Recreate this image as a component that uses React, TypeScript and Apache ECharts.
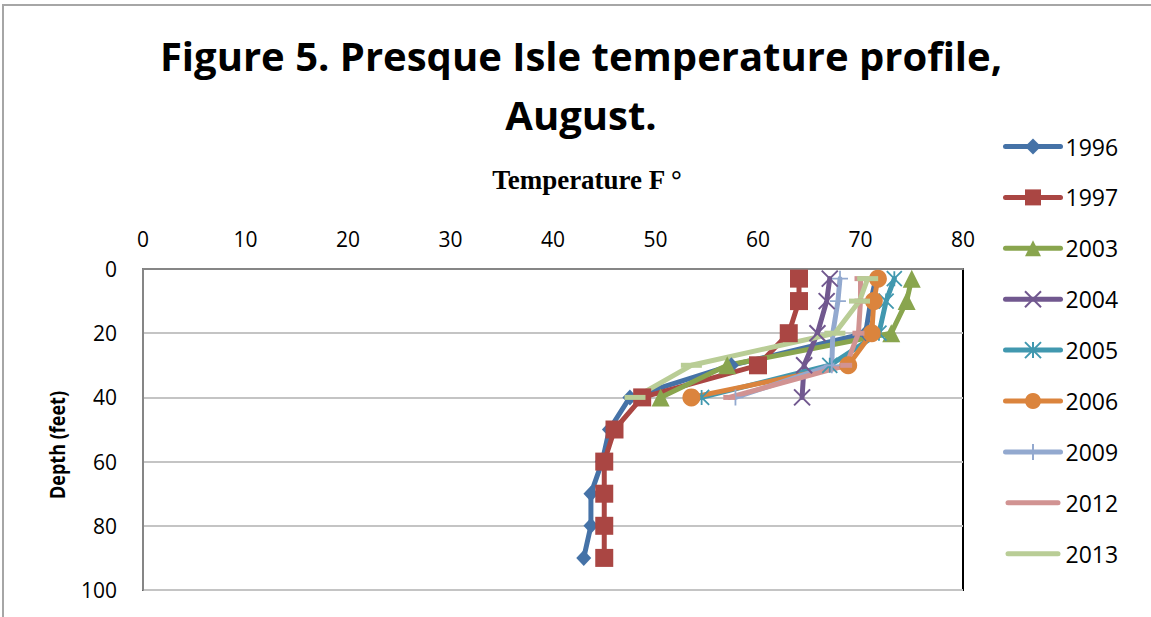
import React, { useEffect, useRef } from "react";
import * as echarts from "echarts";

// Depth (feet) of each measurement
const depthFeet = [3, 10, 20, 30, 40, 50, 60, 70, 80, 90];
const years = ["1996", "1997", "2003", "2004", "2005", "2006", "2009", "2012", "2013"];

// Temperature (F) at each depth, per year
const temp1996 = [71.5, 71, 70.5, 57.4, 47.5, 45.5, 44.8, 43.7, 43.7, 43];
const temp1997 = [64, 64, 63, 60, 48.7, 46, 45, 45, 45, 45];
const temp2003 = [75, 74.5, 73, 57, 50.5];
const temp2004 = [67, 66.7, 65.8, 64.5, 64.3];
const temp2005 = [73.3, 72.5, 71.8, 67, 54.5];
const temp2006 = [71.7, 71.3, 71.1, 68.8, 53.5];
const temp2009 = [68, 67.8, 67.3, 67.2, 57.8];
const temp2012 = [70, 70, 69.8, 68.6, 57.2];
const temp2013 = [70.7, 69.9, 67.5, 53.5, 48];

const titleLines = ["Figure 5. Presque Isle temperature profile,", "August."];
const xAxisTitle = "Temperature F \u00B0";
const yAxisTitle = "Depth (feet)";

const colors = ["#4572A7", "#AA4643", "#89A54E", "#71588F", "#4198AF", "#DB843D", "#93A9CF", "#D19392", "#B9CD96"];

const X_PATH = "path://M0,0L10,10M10,0L0,10";
const STAR_PATH = "path://M0,0L10,10M10,0L0,10M5,0L5,10";
const PLUS_PATH = "path://M5,0L5,10M0,5L10,5";
const DASH_ICON = "path://M0,0L0,0M55,20L55,20M2.5,7.5L52.5,7.5Q55,7.5 55,10Q55,12.5 52.5,12.5L2.5,12.5Q0,12.5 0,10Q0,7.5 2.5,7.5Z";

function makeSeries(name: string, temps: number[], color: string, symbol: string, symbolSize: any, stroke: number) {
  return {
    name,
    type: "line",
    data: temps.map((t, i) => [t, depthFeet[i]]),
    symbol,
    symbolSize,
    showAllSymbol: true,
    lineStyle: { color, width: 5, cap: "round", join: "round" },
    itemStyle: { color, borderColor: color, borderWidth: stroke },
    emphasis: { disabled: true },
  };
}

export default function App() {
  const ref = useRef<HTMLDivElement>(null);
  useEffect(() => {
    if (!ref.current) return;
    const chart = echarts.init(ref.current, undefined, { renderer: "svg" });
    const series = [
      makeSeries(years[0], temp1996, colors[0], "diamond", [15, 16], 0),
      makeSeries(years[1], temp1997, colors[1], "rect", 18, 0),
      makeSeries(years[2], temp2003, colors[2], "triangle", 18, 0),
      makeSeries(years[3], temp2004, colors[3], X_PATH, 16, 2),
      makeSeries(years[4], temp2005, colors[4], STAR_PATH, 15, 1.8),
      makeSeries(years[5], temp2006, colors[5], "circle", 18, 0),
      makeSeries(years[6], temp2009, colors[6], PLUS_PATH, 16, 1.8),
      makeSeries(years[7], temp2012, colors[7], "rect", [12, 5], 0),
      makeSeries(years[8], temp2013, colors[8], "rect", [21, 5], 0),
    ];
    const font = "'Open Sans', sans-serif";
    chart.setOption({
      animation: false,
      backgroundColor: "#fff",
      grid: {
        left: 143,
        right: 188,
        top: 269,
        bottom: 27,
        show: true,
        borderColor: "#000",
        borderWidth: 2,
        backgroundColor: "transparent",
      },
      xAxis: {
        type: "value",
        position: "top",
        min: 0,
        max: 80,
        interval: 10,
        axisLine: { show: true, lineStyle: { color: "#868686", width: 2 } },
        axisTick: { show: false },
        splitLine: { show: false },
        axisLabel: { fontFamily: font, fontSize: 21, color: "#000", margin: 20 },
      },
      yAxis: {
        type: "value",
        inverse: true,
        min: 0,
        max: 100,
        interval: 20,
        axisLine: { show: true, lineStyle: { color: "#868686", width: 2 } },
        axisTick: { show: false },
        splitLine: { show: true, lineStyle: { color: "#C4C4C4", width: 2 } },
        axisLabel: { fontFamily: font, fontSize: 21, color: "#000", margin: 26 },
      },
      legend: {
        orient: "vertical",
        left: 1003,
        top: 135,
        padding: 0,
        itemWidth: 55,
        itemHeight: 20,
        itemGap: 27.9,
        lineStyle: { width: 5, cap: "round" },
        textStyle: { fontFamily: font, fontSize: 23, color: "#000", lineHeight: 20 },
        data: years.map((y) =>
          y === "2012" || y === "2013" ? { name: y, icon: DASH_ICON, itemStyle: { borderWidth: 0 } } : y
        ),
      },
      graphic: [
        {
          type: "rect",
          silent: true,
          z: -10,
          shape: { x: 3, y: 5, width: 1200, height: 700 },
          style: { fill: "none", stroke: "#A6A6A6", lineWidth: 2 },
        },
        {
          type: "text",
          x: 581,
          y: 55,
          style: { text: titleLines[0], fontFamily: font, fontWeight: "bold", fontSize: 40, fill: "#000", align: "center", verticalAlign: "middle" },
        },
        {
          type: "text",
          x: 581,
          y: 114,
          style: { text: titleLines[1], fontFamily: font, fontWeight: "bold", fontSize: 40, fill: "#000", align: "center", verticalAlign: "middle" },
        },
        {
          type: "text",
          x: 587,
          y: 180,
          style: { text: xAxisTitle, fontFamily: "'Liberation Serif', serif", fontWeight: "bold", fontSize: 27, fill: "#000", align: "center", verticalAlign: "middle" },
        },
        {
          type: "text",
          x: 57,
          y: 445,
          rotation: Math.PI / 2,
          scaleX: 0.82,
          style: { text: yAxisTitle, fontFamily: font, fontWeight: "bold", fontSize: 22, fill: "#000", align: "center", verticalAlign: "middle" },
        },
      ],
      series,
    });
    return () => chart.dispose();
  }, []);
  return (
    <div
      ref={ref}
      style={{ position: "fixed", left: 0, top: 0, width: 1151, height: 617, background: "#fff" }}
    />
  );
}
